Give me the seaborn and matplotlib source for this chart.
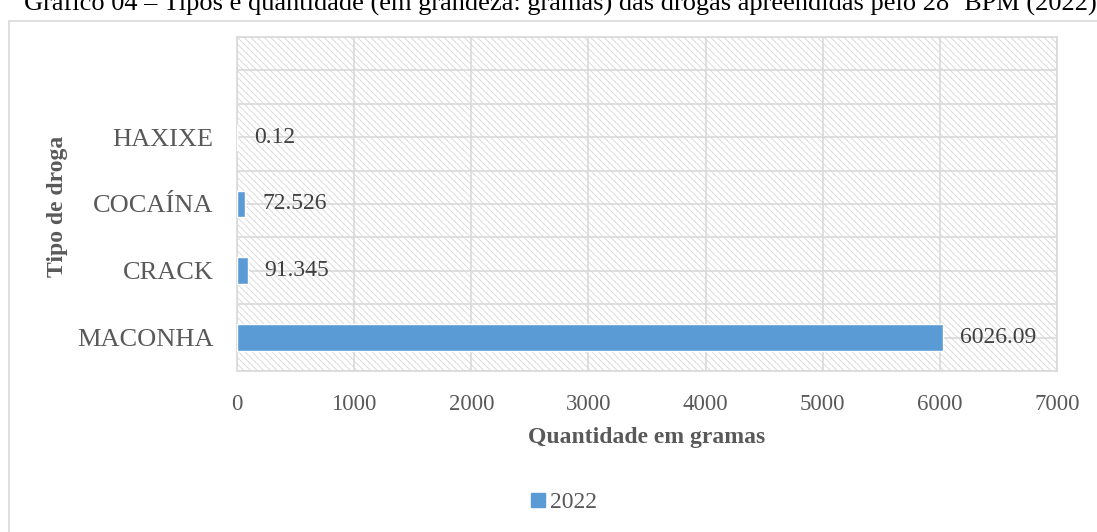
import matplotlib
matplotlib.use("Agg")
import matplotlib.pyplot as plt
from matplotlib.patches import Rectangle
from matplotlib.lines import Line2D
import numpy as np
import pandas as pd
import seaborn as sns

# Drug seizures by type, in grams (2022)
categories = ["HAXIXE", "COCAÍNA", "CRACK", "MACONHA"]
quantities = [0.12, 72.526, 91.345, 6026.09]
x_ticks = [0, 1000, 2000, 3000, 4000, 5000, 6000, 7000]
series_name = "2022"

title = ("Gráfico 04 – Tipos e quantidade (em grandeza: gramas) das drogas "
         "apreendidas pelo 28º BPM (2022)")
x_title = "Quantidade em gramas"
y_title = "Tipo de droga"

sns.set_theme(style="white")
plt.rcParams["font.family"] = ["Liberation Serif", "DejaVu Serif"]
plt.rcParams["hatch.linewidth"] = 0.6

BAR = "#5B9BD5"
GRID = "#d9d9d9"
TXT = "#595959"

W, H = 1097, 532
fig = plt.figure(figsize=(W / 100, H / 100), dpi=100)

# outer chart frame (runs off the right and bottom edges)
frame = Rectangle((9 / W, -0.05), 1.2, 1 - 21 / H + 0.05,
                  transform=fig.transFigure, facecolor="white",
                  edgecolor=GRID, linewidth=1.2, zorder=-5)
fig.patches.append(frame)

fig.text(24 / W, 1 - 10 / H, title, ha="left", va="baseline",
         fontsize=19, color="black")

ax = fig.add_axes([237 / W, 1 - 371 / H, (1057 - 237) / W, (371 - 37) / H])
ax.set_facecolor("none")
ax.set_zorder(2)

df = pd.DataFrame({"tipo": categories, "qtd": quantities})
sns.barplot(data=df, x="qtd", y="tipo", order=categories, orient="h",
            color=BAR, width=0.4, saturation=1, ax=ax, zorder=3)

# hatched plot-area background
ax.add_patch(Rectangle((0, 0), 1, 1, transform=ax.transAxes, facecolor="white",
                       edgecolor="#d6d6d6", hatch="\\\\\\\\\\", linewidth=0,
                       zorder=0.1))

ax.set_xlim(x_ticks[0], x_ticks[-1])
ax.set_ylim(len(categories) - 0.5, -1.5)
ax.set_xticks(x_ticks)
ax.set_xticklabels([str(t) for t in x_ticks])

for xv in x_ticks:
    ax.axvline(xv, color=GRID, linewidth=1.2, zorder=0.5)
for yv in np.arange(-1.5, len(categories) - 0.5 + 0.01, 0.5):
    ax.axhline(yv, color=GRID, linewidth=1.2, zorder=0.5)

for s in ax.spines.values():
    s.set_visible(True)
    s.set_color(GRID)
    s.set_linewidth(1.2)

ax.tick_params(axis="x", length=0, pad=16.5, labelsize=16.5, labelcolor=TXT)
ax.tick_params(axis="y", length=0, pad=17, labelsize=19, labelcolor=TXT)

ax.bar_label(ax.containers[0], labels=[f"{v:g}" for v in quantities],
             padding=12, fontsize=17, color="#404040")

ax.set_xlabel(x_title, fontsize=17, fontweight="bold", color=TXT)
ax.set_ylabel(y_title, fontsize=17, fontweight="bold", color=TXT)
ax.xaxis.set_label_coords(0.5, -0.198)
ax.xaxis.label.set_va("center")
ax.yaxis.set_label_coords(-0.2195, 0.494)
ax.yaxis.label.set_va("center")

handle = Line2D([], [], marker="s", linestyle="none", markersize=9.5,
                markerfacecolor=BAR, markeredgecolor=BAR)
fig.legend([handle], [series_name], loc="center", frameon=False,
           bbox_to_anchor=(563 / W, 1 - 502 / H), fontsize=17,
           labelcolor=TXT, handletextpad=0.1, handlelength=0.8)

fig.savefig("out.png", dpi=100)
